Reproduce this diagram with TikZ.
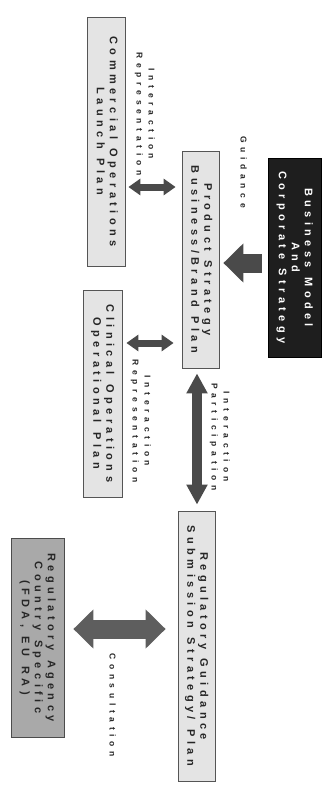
\documentclass[tikz,border=0pt]{standalone}
\usepackage{fontspec}
\usepackage{graphicx}
\setmainfont{Liberation Sans}
\newfontfamily\boxfont[LetterSpace=40,WordSpace=1.3]{Liberation Sans}
\newfontfamily\labfont[LetterSpace=55,WordSpace=1.2]{Liberation Sans}
\usetikzlibrary{arrows.meta}
\newcommand\rtext[1]{\rotatebox{-90}{\begin{tabular}{@{}c@{}}#1\end{tabular}}}
\definecolor{boxfill}{HTML}{E4E4E4}
\definecolor{boxline}{HTML}{555555}
\definecolor{darkfill}{HTML}{1E1E1E}
\definecolor{agencyfill}{HTML}{A9A9A9}
\definecolor{arrowgray}{HTML}{4A4A4A}
\definecolor{consgray}{HTML}{5E5E5E}
\tikzset{
  plainbox/.style={draw=boxline, line width=0.8pt, fill=boxfill, inner sep=0pt,
    font={\boxfont\bfseries\fontsize{11}{13}\selectfont}, text=black!85},
  darkbox/.style={plainbox, fill=darkfill, draw=black, text=white},
  agencybox/.style={plainbox, fill=agencyfill, draw=black!70},
  lab/.style={inner sep=0pt, font={\labfont\bfseries\fontsize{8.5}{12}\selectfont}, text=black!85},
  bigarrow/.style={line width=19pt, draw=arrowgray, line cap=butt,
    -{Triangle[width=38pt,length=20pt]}},
  bigdbl/.style={line width=19pt, draw=consgray, line cap=butt,
    {Triangle[width=38pt,length=20pt]}-{Triangle[width=38pt,length=20pt]}},
  smalldbl/.style={line width=7pt, draw=arrowgray, line cap=butt,
    {Triangle[width=16pt,length=12pt]}-{Triangle[width=16pt,length=12pt]}},
  vertdbl/.style={line width=10pt, draw=arrowgray, line cap=butt,
    {Triangle[width=20pt,length=20pt]}-{Triangle[width=20pt,length=20pt]}}
}
\begin{document}
\begin{tikzpicture}[x=1pt,y=-1pt]
\useasboundingbox (0,0) rectangle (328,793);
% boxes
\node[plainbox, minimum width=38pt, minimum height=249pt] (comm) at (106,141.5)
  {\rtext{Commercial Operations\\Launch Plan}};
\node[plainbox, minimum width=37pt, minimum height=217pt] (prod) at (200.5,259.5)
  {\rtext{Product Strategy\\Business/Brand Plan}};
\node[darkbox, minimum width=53pt, minimum height=199pt] (biz) at (294.5,257.5)
  {\rtext{Business Model\\And\\Corporate Strategy}};
\node[plainbox, minimum width=39pt, minimum height=207pt] (clin) at (102.5,393.5)
  {\rtext{Clinical Operations\\Operational Plan}};
\node[plainbox, minimum width=37pt, minimum height=270pt] (regg) at (196.5,646)
  {\rtext{Regulatory Guidance\\Submission Strategy/ Plan}};
\node[agencybox, minimum width=53pt, minimum height=199pt] (rega) at (37.5,637.5)
  {\rtext{Regulatory Agency\\Country Specific\\(FDA, EU RA)}};
% labels
\node[lab] (l1) at (145,114) {\rtext{Interaction\\Representation}};
\node[lab] (l2) at (243,172) {\rtext{Guidance}};
\node[lab] (l3) at (141,421) {\rtext{Interaction\\Representation}};
\node[lab] (l4) at (220,437) {\rtext{Interaction\\Participation}};
\node[lab] (l5) at (112,705) {\rtext{Consultation}};
% helper coordinates
\coordinate (y1) at (0,187);
\coordinate (y2) at (0,343);
\coordinate (y3) at (0,263);
\coordinate (y4) at (0,629);
\coordinate (xv) at (197,0);
% connectors
\draw[smalldbl, shorten <=3pt, shorten >=6pt] (comm.east |- y1) -- (prod.west |- y1);
\draw[smalldbl, shorten <=4pt, shorten >=8pt] (clin.east |- y2) -- (prod.west |- y2);
\draw[bigarrow, shorten <=6pt, shorten >=4pt] (biz.west |- y3) -- (prod.east |- y3);
\draw[vertdbl, shorten <=5pt, shorten >=6pt] (prod.south -| xv) -- (regg.north -| xv);
\draw[bigdbl, shorten <=9pt, shorten >=12pt] (rega.east |- y4) -- (regg.west |- y4);
\end{tikzpicture}
\end{document}
